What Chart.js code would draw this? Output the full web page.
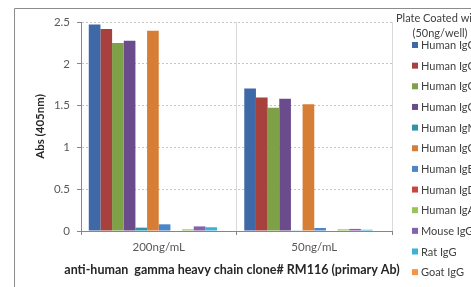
<!DOCTYPE html>
<html><head><meta charset="utf-8">
<script src="https://cdn.jsdelivr.net/npm/chart.js@4/dist/chart.umd.min.js"></script>
<style>html,body{margin:0;padding:0;background:#fff;overflow:hidden}#wrap{width:471px;height:287px;position:relative}</style>
</head><body><div id="wrap"><canvas id="c" width="471" height="287"></canvas></div>
<script>
const categories = ['200ng/mL', '50ng/mL'];
const seriesNames = ['Human IgG1','Human IgG2','Human IgG3','Human IgG4','Human IgM','Human IgG Fc','Human IgE','Human IgD','Human IgA','Mouse IgG','Rat IgG','Goat IgG'];
const values200 = [2.47, 2.415, 2.25, 2.275, 0.04, 2.395, 0.08, 0.0, 0.02, 0.055, 0.045, 0.0];
const values50  = [1.705, 1.597, 1.473, 1.581, 0.008, 1.517, 0.036, 0.0, 0.02, 0.025, 0.015, 0.0];
const colors = ['#3E68A6','#A6413E','#7EA046','#6A4C8C','#3193AB','#D77E36','#4A86C8','#C9463F','#9CC35A','#8462AE','#3DB1D8','#F79342'];
const yTicks = [0, 0.5, 1, 1.5, 2, 2.5];
const yTitle = 'Abs (405nm)';
const xTitle = 'anti-human  gamma heavy chain clone# RM116 (primary Ab)';
const legendTitle = ['Plate Coated with', '(50ng/well)'];

const FONT = 'Lato, "Open Sans", sans-serif';
Chart.defaults.font.family = FONT;

const datasets = seriesNames.map((n, i) => ({
  label: n,
  data: [values200[i], values50[i]],
  backgroundColor: colors[i],
  borderWidth: 0,
  barPercentage: 1.0,
  categoryPercentage: 0.9
}));

const decor = {
  id: 'decor',
  afterDraw(chart) {
    const ctx = chart.ctx;
    const ca = chart.chartArea;
    ctx.save();
    ctx.strokeStyle = '#8c8c8c';
    ctx.lineWidth = 1;
    ctx.beginPath();
    ctx.moveTo(14.5, 300); ctx.lineTo(14.5, 8.5); ctx.lineTo(480, 8.5);
    ctx.stroke();
    ctx.fillStyle = '#262626';
    ctx.font = 'bold 11.5px ' + FONT;
    ctx.textAlign = 'center';
    ctx.textBaseline = 'middle';
    ctx.save();
    ctx.translate(40, (ca.top + ca.bottom) / 2);
    ctx.rotate(-Math.PI / 2);
    ctx.fillText(yTitle, 0, 0);
    ctx.restore();
    ctx.font = 'bold 12.5px ' + FONT;
    ctx.fillText(xTitle, 232, 270);
    ctx.fillStyle = '#404040';
    ctx.font = '11px ' + FONT;
    ctx.textAlign = 'center';
    ctx.fillText(legendTitle[0], 439, 18);
    ctx.fillText(legendTitle[1], 440, 33);
    ctx.textAlign = 'left';
    chart.data.datasets.forEach((ds, i) => {
      const y = 45 + i * 20.65;
      ctx.fillStyle = ds.backgroundColor;
      ctx.fillRect(412, y - 3, 6, 6);
      ctx.fillStyle = '#404040';
      ctx.fillText(ds.label, 421, y + 0.5);
    });
    ctx.restore();
  }
};

new Chart(document.getElementById('c'), {
  type: 'bar',
  data: { labels: categories, datasets },
  options: {
    responsive: false,
    animation: false,
    devicePixelRatio: 1,
    layout: { padding: { left: 0, right: 79, top: 22, bottom: 0 } },
    plugins: { legend: { display: false }, tooltip: { enabled: false } },
    scales: {
      x: {
        type: 'category',
        grid: { offset: true, color: '#d9d9d9', tickColor: '#868686', tickLength: 4, drawOnChartArea: true },
        border: { color: '#868686' },
        ticks: { color: '#595959', font: { size: 11.5 }, padding: 5, maxRotation: 0 },
        afterFit(s) { s.height = 56; }
      },
      y: {
        min: 0, max: 2.5,
        afterBuildTicks(s) { s.ticks = yTicks.map(v => ({ value: v })); },
        grid: { color: '#c6c6c6', tickColor: '#868686', tickLength: 4, tickBorderDash: [] },
        border: { color: '#868686', dash: [2, 2] },
        ticks: { color: '#595959', font: { size: 11.5 }, padding: 7, callback: v => String(v) },
        afterFit(s) { s.width = 81; }
      }
    }
  },
  plugins: [decor]
});
</script>
</body></html>
